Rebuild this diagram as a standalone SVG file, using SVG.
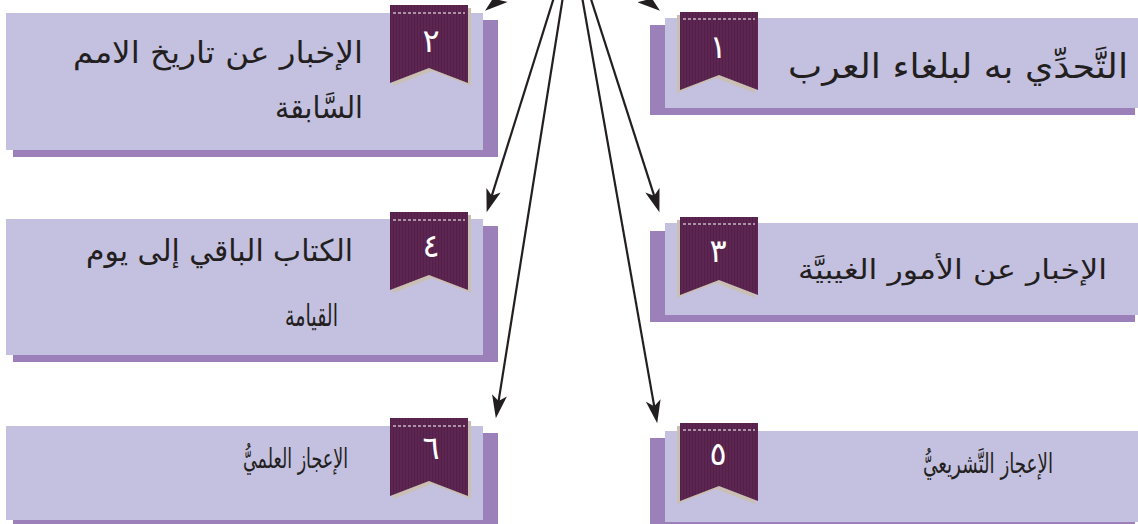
<svg xmlns="http://www.w3.org/2000/svg" width="1138" height="524" viewBox="0 0 1138 524">
<style>
.bg{fill:#ffffff}
.shadow{fill:#9b80b9}
.card{fill:#c4c0df}
.lbl{font-family:"DejaVu Sans",sans-serif;fill:#231f20;text-anchor:end}
.num{font-family:"DejaVu Sans",sans-serif;font-size:32px;fill:#ffffff;text-anchor:middle}
.conn{stroke:#231f20;stroke-width:2.2;fill:none;marker-end:url(#arrow)}
</style>
<defs>
<pattern id="stripes" patternUnits="userSpaceOnUse" width="3" height="10">
<rect width="3" height="10" fill="#5d2650"/>
<rect width="1" height="10" fill="#52204a"/>
</pattern>
<marker id="arrow" markerUnits="userSpaceOnUse" markerWidth="24" markerHeight="15" viewBox="0 0 20 13" refX="12" refY="6.5" orient="auto">
<path d="M0,0 L20,6.5 L0,13 L5,6.5 Z" fill="#231f20"/>
</marker>
<g id="ribbonL">
<path d="M3,3 H81 V81 L42,66 L3,81 Z" fill="#c9bfb3"/>
<path d="M0,0 H78 V78 L39,63 L0,78 Z" fill="url(#stripes)"/>
<path d="M3,8 H75" stroke="#ffffff" stroke-width="1" stroke-dasharray="3 2"/>
</g>
<g id="ribbonR">
<path d="M-3,3 H75 V81 L36,66 L-3,81 Z" fill="#c9bfb3"/>
<path d="M0,0 H78 V78 L39,63 L0,78 Z" fill="url(#stripes)"/>
<path d="M3,7 H75" stroke="#ffffff" stroke-width="1" stroke-dasharray="3 2"/>
</g>
</defs>
<rect class="bg" x="0" y="0" width="1138" height="524"/>

<g id="node-2">
<rect class="shadow" x="13" y="20" width="485" height="137"/>
<rect class="card" x="6" y="13" width="477" height="137"/>
<use href="#ribbonL" x="390" y="5"/>
<text class="num" x="431" y="52">٢</text>
<text class="lbl" x="363" y="63" font-size="30" textLength="290" lengthAdjust="spacingAndGlyphs">الإخبار عن تاريخ الامم</text>
<text class="lbl" x="363" y="118" font-size="30" textLength="88" lengthAdjust="spacingAndGlyphs">السَّابقة</text>
</g>

<g id="node-1">
<rect class="shadow" x="650" y="25" width="485" height="90"/>
<rect class="card" x="665" y="18" width="473" height="90"/>
<use href="#ribbonR" x="680" y="12"/>
<text class="num" x="718" y="58">١</text>
<text class="lbl" x="1128" y="78" font-size="34" textLength="340" lengthAdjust="spacingAndGlyphs">التَّحدِّي به لبلغاء العرب</text>
</g>

<g id="node-4">
<rect class="shadow" x="13" y="226" width="485" height="136"/>
<rect class="card" x="6" y="219" width="477" height="136"/>
<use href="#ribbonL" x="390" y="212"/>
<text class="num" x="431" y="257">٤</text>
<text class="lbl" x="353" y="261" font-size="30" textLength="267" lengthAdjust="spacingAndGlyphs">الكتاب الباقي إلى يوم</text>
<text class="lbl" x="338" y="326" font-size="30" textLength="53" lengthAdjust="spacingAndGlyphs">القيامة</text>
</g>

<g id="node-3">
<rect class="shadow" x="650" y="231" width="485" height="91"/>
<rect class="card" x="665" y="223" width="473" height="92"/>
<use href="#ribbonR" x="680" y="217"/>
<text class="num" x="718" y="262">٣</text>
<text class="lbl" x="1107" y="279" font-size="27" textLength="309" lengthAdjust="spacingAndGlyphs">الإخبار عن الأمور الغيبيَّة</text>
</g>

<g id="node-6">
<rect class="shadow" x="13" y="433" width="485" height="91"/>
<rect class="card" x="6" y="426" width="477" height="94"/>
<use href="#ribbonL" x="390" y="418"/>
<text class="num" x="431" y="459">٦</text>
<text class="lbl" x="348" y="468" font-size="27" textLength="105" lengthAdjust="spacingAndGlyphs">الإعجاز العلميُّ</text>
</g>

<g id="node-5">
<rect class="shadow" x="650" y="438" width="485" height="86"/>
<rect class="card" x="665" y="431" width="473" height="91"/>
<use href="#ribbonR" x="680" y="423"/>
<text class="num" x="718" y="465">٥</text>
<text class="lbl" x="1053" y="473" font-size="27" textLength="130" lengthAdjust="spacingAndGlyphs">الإعجاز التَّشريعيُّ</text>
</g>

<g id="connectors">
<line class="conn" x1="572" y1="-60" x2="492.2" y2="4.95"/>
<line class="conn" x1="572" y1="-60" x2="652.8" y2="5"/>
<line class="conn" x1="572" y1="-60" x2="489.4" y2="203.4"/>
<line class="conn" x1="572" y1="-60" x2="656.6" y2="203.4"/>
<line class="conn" x1="572" y1="-60" x2="497.3" y2="409.1"/>
<line class="conn" x1="572" y1="-60" x2="655.6" y2="414.1"/>
</g>
</svg>
